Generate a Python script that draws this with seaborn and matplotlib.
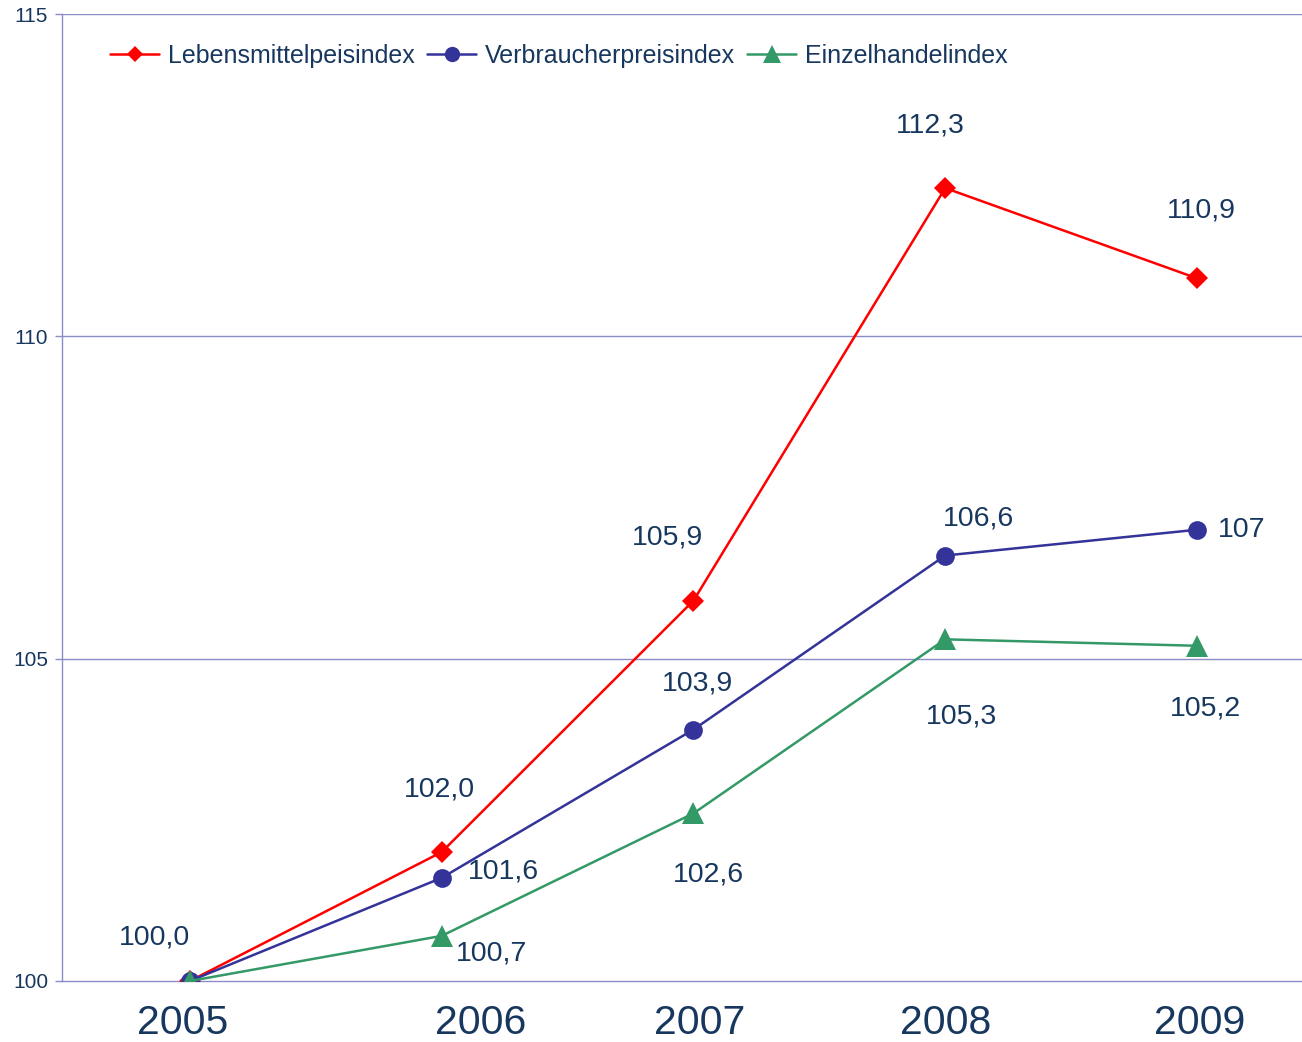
import matplotlib
matplotlib.use("Agg")
import matplotlib.pyplot as plt
import matplotlib.transforms as mtransforms
from matplotlib.lines import Line2D
import pandas as pd
import seaborn as sns

# data
years = [2005, 2006, 2007, 2008, 2009]
lebensmittel = [100.0, 102.0, 105.9, 112.3, 110.9]
verbraucher = [100.0, 101.6, 103.9, 106.6, 107.0]
einzelhandel = [100.0, 100.7, 102.6, 105.3, 105.2]

lebensmittel_labels = ["100,0", "102,0", "105,9", "112,3", "110,9"]
verbraucher_labels = ["", "101,6", "103,9", "106,6", "107"]
einzelhandel_labels = ["", "100,7", "102,6", "105,3", "105,2"]

series_names = ["Lebensmittelpeisindex", "Verbraucherpreisindex", "Einzelhandelindex"]

sns.set_style("white")
plt.rcParams["font.family"] = ["Liberation Sans", "DejaVu Sans"]

navy = "#17375E"
grid_col = "#8C8CC8"
red = "#FF0000"
blue = "#333399"
green = "#339966"

df = pd.DataFrame({"year": years, "leb": lebensmittel, "ver": verbraucher, "ein": einzelhandel})

fig = plt.figure(figsize=(13.02, 10.42), dpi=100)
ax = fig.add_axes([62 / 1302, 61 / 1042, 1240 / 1302, 967 / 1042])

sns.lineplot(data=df, x="year", y="leb", ax=ax, color=red, lw=1.8,
             marker="D", markersize=11, markeredgewidth=0, zorder=3)
sns.lineplot(data=df, x="year", y="ver", ax=ax, color=blue, lw=1.8,
             marker="o", markersize=13.5, markeredgewidth=0, zorder=4)
sns.lineplot(data=df, x="year", y="ein", ax=ax, color=green, lw=1.8,
             marker="^", markersize=16, markeredgewidth=0, zorder=5)

ax.set_xlim(2005 - 0.508, 2009 + 0.417)
ax.set_ylim(100, 115)
ax.set_yticks([100, 105, 110, 115])
ax.set_yticklabels(["100", "105", "110", "115"])
ax.set_xticks([])
ax.set_xlabel("")
ax.set_ylabel("")
for v in [105, 110, 115]:
    ax.axhline(v, color=grid_col, lw=1, zorder=1)

for s in ["top", "right"]:
    ax.spines[s].set_visible(False)
ax.spines["left"].set_color(grid_col)
ax.spines["bottom"].set_color(grid_col)
ax.spines["left"].set_linewidth(1)
ax.spines["bottom"].set_linewidth(1)
ax.tick_params(axis="y", left=True, length=5, width=1, color=grid_col,
               labelsize=15, labelcolor=navy, pad=5)

# x labels (as placed in the original, slightly shifted)
x_shift = [-7, 39, 6, 0, 3]
trans = mtransforms.blended_transform_factory(ax.transData, ax.transAxes)
for yr, dx in zip(years, x_shift):
    ax.annotate(str(yr), xy=(yr, 0), xycoords=trans, xytext=(dx, -42),
                textcoords="offset pixels", ha="center", va="center",
                fontsize=29.5, color=navy, annotation_clip=False)

# data labels: offsets in pixels
leb_off = [(-35, 44), (-2, 63), (-26, 63), (-15, 63), (4, 68)]
ver_off = [(0, 0), (62, 6), (4, 46), (33, 37), (45, 0)]
ein_off = [(0, 0), (50, -18), (15, -61), (16, -77), (8, -63)]
for vals, labs, offs in [(lebensmittel, lebensmittel_labels, leb_off),
                         (verbraucher, verbraucher_labels, ver_off),
                         (einzelhandel, einzelhandel_labels, ein_off)]:
    for yr, v, lab, off in zip(years, vals, labs, offs):
        if lab:
            ax.annotate(lab, xy=(yr, v), xytext=off, textcoords="offset pixels",
                        ha="center", va="center", fontsize=20.5, color=navy,
                        annotation_clip=False)

handles = [
    Line2D([], [], color=red, lw=1.8, marker="D", markersize=8, markeredgewidth=0),
    Line2D([], [], color=blue, lw=1.8, marker="o", markersize=11, markeredgewidth=0),
    Line2D([], [], color=green, lw=1.8, marker="^", markersize=12.5, markeredgewidth=0),
]
leg = ax.legend(handles, series_names, loc="center left", bbox_to_anchor=(0.031, 0.9566),
                ncol=3, frameon=False, fontsize=18, handlelength=1.95,
                handletextpad=0.35, columnspacing=0.5, borderaxespad=0)
for t in leg.get_texts():
    t.set_color(navy)

fig.savefig("out.png", dpi=100)
